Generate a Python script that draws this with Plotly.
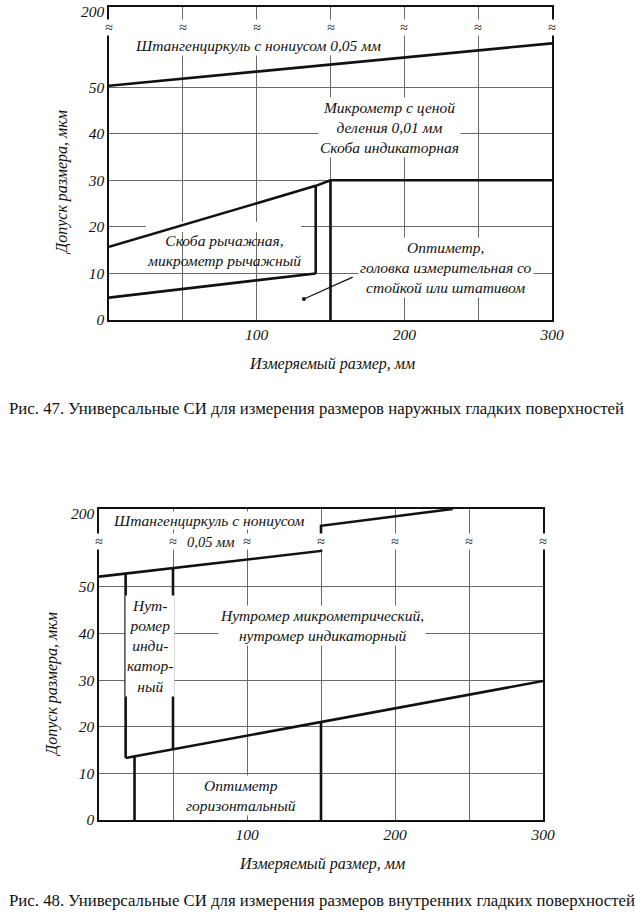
import plotly.graph_objects as go

W, H = 635, 922

# ---------------- data: Fig. 47 (external surfaces) ----------------
f47_caliper_x = [0, 300]
f47_caliper_y = [50.3, 59.4]
f47_lever_top_x = [0, 140, 150, 300]
f47_lever_top_y = [15.7, 28.8, 30, 30]
f47_lever_side_x = [140, 140]
f47_lever_side_y = [28.8, 10]
f47_lever_bottom_x = [0, 140]
f47_lever_bottom_y = [4.8, 10]
f47_optimeter_x = [150, 150]
f47_optimeter_y = [30, 0]
f47_pointer_x = [132, 165]
f47_pointer_y = [4.5, 9.2]

# ---------------- data: Fig. 48 (internal surfaces) ----------------
f48_caliper_x = [0, 150, 150, 239]
f48_caliper_y = [52.2, 57.7, 63.1, 66.7]
f48_ind_left_x = [18, 18]
f48_ind_left_y = [52.9, 13.3]
f48_ind_right_x = [50, 50]
f48_ind_right_y = [54.0, 15.2]
f48_micro_bottom_x = [18, 300]
f48_micro_bottom_y = [13.3, 29.8]
f48_opt_left_x = [24, 24]
f48_opt_left_y = [13.65, 0]
f48_opt_right_x = [150, 150]
f48_opt_right_y = [21.0, 0]

# axis tick data
x_tickvals = [0, 50, 100, 150, 200, 250, 300]
x_ticktext = ["", "", "100", "", "200", "", "300"]
y_ticks = [0, 10, 20, 30, 40, 50]
y_top_label = "200"
f47_ymax = 67.2
f48_ymax = 66.7
break_x = [0, 50, 100, 150, 200, 250, 300]

FONT = "Liberation Serif"
INK = "#111111"
GRID = "#6a6a6a"

def px2py(p):
    return 1 - p / H

def px2xx(p):
    return p / W

fig = go.Figure()

def add_line(x, y, xa, ya, width=2.6):
    fig.add_trace(go.Scatter(x=x, y=y, mode="lines", xaxis=xa, yaxis=ya,
                             line=dict(color=INK, width=width), showlegend=False,
                             hoverinfo="skip"))

for xs, ys in [(f47_caliper_x, f47_caliper_y), (f47_lever_top_x, f47_lever_top_y),
               (f47_lever_side_x, f47_lever_side_y), (f47_lever_bottom_x, f47_lever_bottom_y),
               (f47_optimeter_x, f47_optimeter_y)]:
    add_line(xs, ys, "x", "y")
fig.add_trace(go.Scatter(x=f47_pointer_x, y=f47_pointer_y, mode="lines", xaxis="x", yaxis="y",
                         line=dict(color=INK, width=1.2), showlegend=False, hoverinfo="skip"))
fig.add_trace(go.Scatter(x=f47_pointer_x[:1], y=f47_pointer_y[:1], mode="markers", xaxis="x", yaxis="y",
                         marker=dict(color=INK, size=4), showlegend=False, hoverinfo="skip"))

for xs, ys in [(f48_caliper_x, f48_caliper_y), (f48_ind_left_x, f48_ind_left_y),
               (f48_ind_right_x, f48_ind_right_y), (f48_micro_bottom_x, f48_micro_bottom_y),
               (f48_opt_left_x, f48_opt_left_y), (f48_opt_right_x, f48_opt_right_y)]:
    add_line(xs, ys, "x2", "y2")

def xaxis_cfg(px_left, px_right):
    return dict(domain=[px2xx(px_left), px2xx(px_right)], range=[0, 300],
                tickmode="array", tickvals=x_tickvals, ticktext=x_ticktext,
                showgrid=True, gridcolor=GRID, gridwidth=1.2, zeroline=False,
                showline=True, linecolor=INK, linewidth=1.5, mirror=True,
                ticks="", automargin=False,
                tickfont=dict(family=FONT, size=15.5, color=INK, style="italic"),
                fixedrange=True)

def yaxis_cfg(px_bottom, px_top, ymax, anchor):
    return dict(domain=[px2py(px_bottom), px2py(px_top)], range=[0, ymax],
                tickmode="array", tickvals=y_ticks,
                ticktext=[str(v) for v in y_ticks],
                showgrid=True, gridcolor=GRID, gridwidth=1.2, zeroline=False,
                showline=True, linecolor=INK, linewidth=1.5, ticks="", automargin=False,
                mirror=True,
                tickfont=dict(family=FONT, size=15.5, color=INK, style="italic"),
                anchor=anchor, fixedrange=True)

fig.update_layout(
    template="none",
    width=W, height=H, margin=dict(l=0, r=0, t=0, b=0, pad=0), autosize=False,
    paper_bgcolor="white", plot_bgcolor="white",
    font=dict(family=FONT),
    xaxis=dict(**xaxis_cfg(109, 552), anchor="y"),
    yaxis=yaxis_cfg(320, 7, f47_ymax, "x"),
    xaxis2=dict(**xaxis_cfg(99, 543), anchor="y2"),
    yaxis2=yaxis_cfg(820, 509, f48_ymax, "x2"),
)

# white gap in the 20-gridline behind the "Скоба рычажная" label (drawn under the traces)
fig.add_shape(type="rect", xref="x", yref="y", x0=25, x1=130, y0=18.9, y1=21.1,
              fillcolor="white", line=dict(width=0), layer="between")

ann = []

def text(x, y, s, xref, yref, size=15.5, bg="white", italic=True, xanchor="center", pad=0,
         angle=0):
    ann.append(dict(x=x, y=y, xref=xref, yref=yref, text=s, showarrow=False,
                    xanchor=xanchor, yanchor="middle", textangle=angle,
                    font=dict(family=FONT, size=size, color=INK,
                              style="italic" if italic else "normal"),
                    bgcolor=bg, borderpad=pad))

CLEAR = "rgba(0,0,0,0)"

# top "200" labels of the broken axes
text(px2xx(106), px2py(12), y_top_label, "paper", "paper", xanchor="right", bg=CLEAR)
text(px2xx(96), px2py(513), y_top_label, "paper", "paper", xanchor="right", bg=CLEAR)

# break marks
for bx in break_x:
    text(bx, 62.9, "≈", "x", "y", size=14)
    text(bx, 59.8, "≈", "x2", "y2", size=14)

# Fig 47 labels
text(101, 59.0, "Штангенциркуль с нониусом 0,05 мм", "x", "y", pad=1)
text(190, 41.4, "Микрометр с ценой<br>деления 0,01 мм<br>Скоба индикаторная", "x", "y", pad=1)
text(78, 15.0, "Скоба рычажная,<br>микрометр рычажный", "x", "y", bg=CLEAR)
text(228, 11.3, "Оптиметр,<br>головка измерительная со<br>стойкой или штативом", "x", "y", pad=1)

# Fig 48 labels
text(74, 64.2, "Штангенциркуль с нониусом", "x2", "y2")
text(76, 59.6, "0,05 мм", "x2", "y2", size=14.5, bg=CLEAR)
text(34.5, 37.4, "Нут-<br>ромер<br>инди-<br>катор-<br>ный", "x2", "y2", pad=1)
text(150.5, 41.7, "Нутромер микрометрический,<br>нутромер индикаторный", "x2", "y2", pad=1)
text(96, 5.2, "Оптиметр<br>горизонтальный", "x2", "y2", pad=1)

# axis titles
text(px2xx(332), px2py(364), "Измеряемый размер, мм", "paper", "paper", size=16, bg=CLEAR)
text(px2xx(322), px2py(864), "Измеряемый размер, мм", "paper", "paper", size=16, bg=CLEAR)
text(px2xx(62), px2py(183), "Допуск размера, мкм", "paper", "paper", size=16, bg=CLEAR, angle=-90)
text(px2xx(52), px2py(685), "Допуск размера, мкм", "paper", "paper", size=16, bg=CLEAR, angle=-90)

# captions
text(px2xx(8), px2py(408), "Рис. 47. Универсальные СИ для измерения размеров наружных гладких поверхностей",
     "paper", "paper", size=16.8, italic=False, xanchor="left", bg=CLEAR)
text(px2xx(8), px2py(900), "Рис. 48. Универсальные СИ для измерения размеров внутренних гладких поверхностей",
     "paper", "paper", size=16.8, italic=False, xanchor="left", bg=CLEAR)

fig.update_layout(annotations=ann)
fig.write_html("out.html")
